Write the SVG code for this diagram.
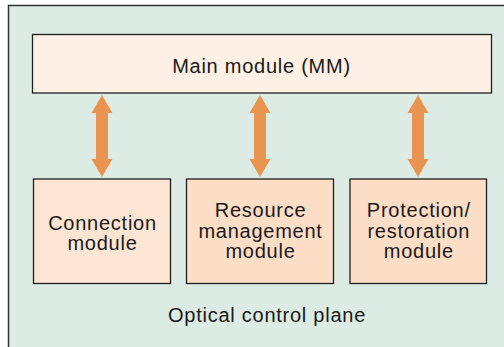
<svg xmlns="http://www.w3.org/2000/svg" width="504" height="347" viewBox="0 0 504 347">
  <defs>
    <style>
      .box { stroke: #1f1f1f; stroke-width: 1.3; }
      .lbl { font-family: "Liberation Sans", Arial, sans-serif; font-size: 20px; letter-spacing: 0.75px; fill: #1a1a1a; text-anchor: middle; }
      .arrow { fill: #ea9452; }
    </style>
    <!-- double-headed block arrow, centred on x=0, spanning y 0..82 -->
    <path id="dbl" d="M0,0 L10.5,18 L6,18 L6,64 L10.5,64 L0,82 L-10.5,64 L-6,64 L-6,18 L-10.5,18 Z"/>
  </defs>

  <rect width="504" height="347" fill="#ffffff"/>

  <!-- control plane panel -->
  <g id="plane">
    <rect x="8.5" y="5.5" width="510" height="360" fill="#dcebe4" stroke="#333" stroke-width="1.5"/>
    <text class="lbl" x="267" y="321.5">Optical control plane</text>
  </g>

  <g id="main">
    <rect class="box" x="32.5" y="34.5" width="459" height="58.5" fill="#fef0e4"/>
    <text class="lbl" x="261.5" y="73.3">Main module (MM)</text>
  </g>

  <g id="connection">
    <rect class="box" x="33.5" y="179" width="137" height="104.5" fill="#fce6d3"/>
    <text class="lbl" x="102.5" y="229.5">Connection</text>
    <text class="lbl" x="102.5" y="249.5">module</text>
  </g>

  <g id="resource">
    <rect class="box" x="186.5" y="179" width="147" height="104.5" fill="#fcddc5"/>
    <text class="lbl" x="260.5" y="216.7">Resource</text>
    <text class="lbl" x="260.5" y="237.5">management</text>
    <text class="lbl" x="260.5" y="258.3">module</text>
  </g>

  <g id="protection">
    <rect class="box" x="350" y="179" width="136.5" height="104.5" fill="#fcddc5"/>
    <text class="lbl" x="418.8" y="216.7">Protection/</text>
    <text class="lbl" x="418.8" y="237.5">restoration</text>
    <text class="lbl" x="418.8" y="258.3">module</text>
  </g>

  <g id="connectors" class="arrow">
    <use href="#dbl" x="102" y="95"/>
    <use href="#dbl" x="260" y="95"/>
    <use href="#dbl" x="418" y="95"/>
  </g>
</svg>
